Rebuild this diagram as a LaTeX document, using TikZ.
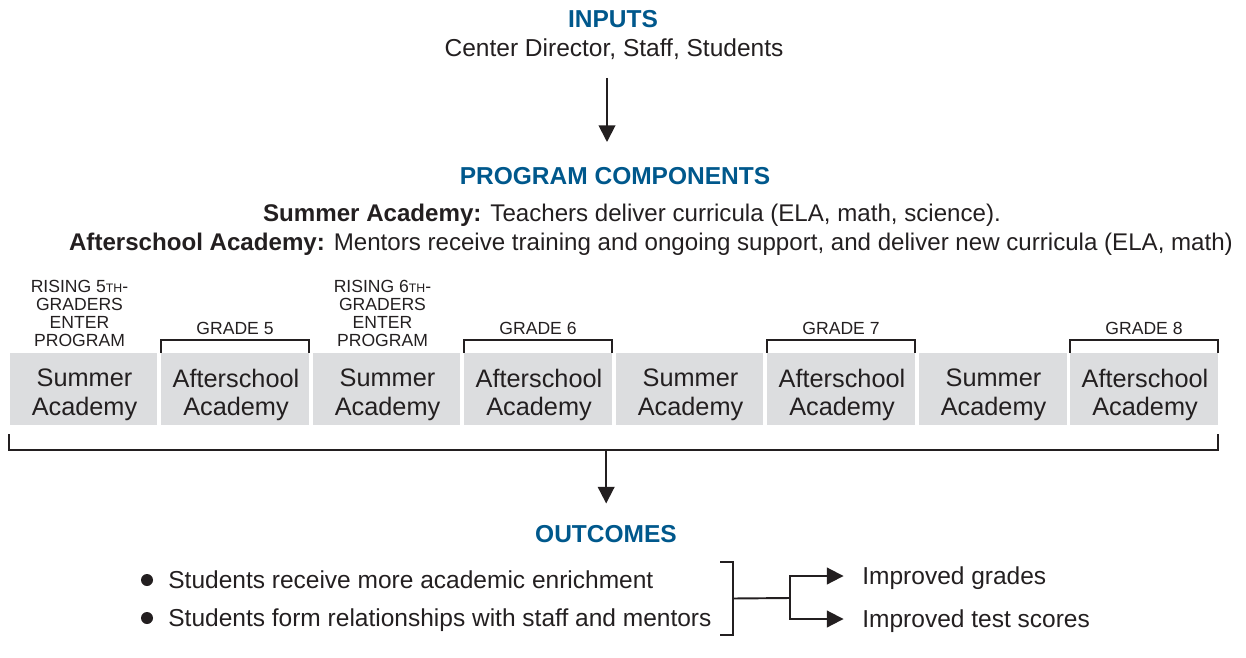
\documentclass[tikz,border=0pt]{standalone}
\usepackage{fontspec}
\setmainfont{Liberation Sans}
\usepackage{xcolor}
\usepackage{tikz}
\usetikzlibrary{arrows.meta, calc}

\definecolor{hdblue}{RGB}{0,88,140}
\definecolor{boxgray}{RGB}{220,221,223}
\definecolor{ink}{RGB}{35,31,32}

\tikzset{
    heading/.style={font=\fontsize{13.95}{16}\selectfont\bfseries, text=hdblue, anchor=base, inner sep=0},
    plain/.style={font=\fontsize{13.95}{16}\selectfont, text=ink, anchor=base, inner sep=0},
    detail/.style={plain, font=\fontsize{13.72}{16}\selectfont},
    academy/.style={fill=boxgray, minimum width=2.96cm, minimum height=1.44cm, inner sep=0},
    boxtext/.style={align=center, text=ink, inner sep=0, font=\fontsize{14.4}{16.4}\selectfont},
    small/.style={font=\fontsize{10}{10.2}\selectfont, text=ink, align=center, inner sep=0},
    outtext/.style={plain, anchor=west, text height=9.9pt, text depth=0pt},
    dot/.style={circle, fill=ink, inner sep=0, minimum size=0.24cm},
    brk/.style={line width=1.1pt, draw=ink},
    arr/.style={brk, -{Triangle[length=9.5pt,width=9.5pt]}},
}

\begin{document}
\begin{tikzpicture}[x=0.02cm, y=-0.02cm]
    \useasboundingbox (0,0) rectangle (1246,658);

    % inputs
    \node[heading] (inputs) at (613,28) {INPUTS};
    \node[plain] (who) at (614,57) {Center Director, Staff, Students};
    \coordinate (top1) at (607,78);
    \coordinate (top2) at (607,142);
    \draw[arr] (top1) -- (top2);

    % program components
    \node[heading] (prog) at (615,185) {PROGRAM COMPONENTS};
    \node[detail] (summer) at (632,222) {\textbf{Summer Academy:} Teachers deliver curricula (ELA, math, science).};
    \node[detail] (after) at (651,251) {\textbf{Afterschool Academy:} Mentors receive training and ongoing support, and deliver new curricula (ELA, math)};

    \foreach \t[count=\i] in {Summer, Afterschool, Summer, Afterschool, Summer, Afterschool, Summer, Afterschool} {
        \node[academy] (box\i) at ({83.5+151.5*(\i-1)}, 389) {};
        \node[boxtext] (txt\i) at ($(box\i.center)+(1,6)$) {\t\\Academy};
    }

    \foreach \b/\g in {box2/5, box4/6, box6/7, box8/8} {
        \draw[brk] (\b.north west) -- ++(0,-13) -| (\b.north east);
        \path (\b.north) ++(0,-18) node[small, anchor=base] (grade\g) {GRADE \g};
    }

    \foreach \b/\g in {box1/5, box3/6} {
        \path (\b.north) ++(-4,-6) node[small, anchor=south] (rise\g)
            {RISING \g{\fontsize{7}{7}\selectfont TH}-\\GRADERS\\ENTER\\PROGRAM};
    }

    % bracket under the boxes
    \coordinate (bl) at ($(box1.south west)+(0,9)$);
    \coordinate (br) at ($(box8.south east)+(0,9)$);
    \draw[brk] (bl) -- ++(0,16) -| (br);
    \coordinate (drop) at ($(bl)+(597,16)$);

    % outcomes
    \node[heading] (outc) at (606,542) {OUTCOMES};
    \draw[arr, shorten >=12pt] (drop) -- (drop |- outc.north);

    \foreach \t[count=\i] in {Students receive more academic enrichment, Students form relationships with staff and mentors} {
        \node[dot] (dot\i) at (147, {580+38*(\i-1)}) {};
        \node[outtext] (res\i) at (168, {580+38*(\i-1)}) {\t};
    }

    \coordinate (k1) at (733,562);
    \coordinate (k2) at (733,635);
    \draw[brk] ($(k1)+(-13,0)$) -- (k1) -- (k2) -- ++(-13,0);
    \coordinate (fork) at (790,598);
    \draw[brk] ($(k1)!0.5!(k2)$) -- (fork);

    \node[outtext] (grades) at (862,576) {Improved grades};
    \node[outtext] (scores) at (862,619) {Improved test scores};
    \draw[arr, shorten >=10.5pt] (fork) |- (grades.west);
    \draw[arr, shorten >=10.5pt] (fork) |- (scores.west);
\end{tikzpicture}
\end{document}
